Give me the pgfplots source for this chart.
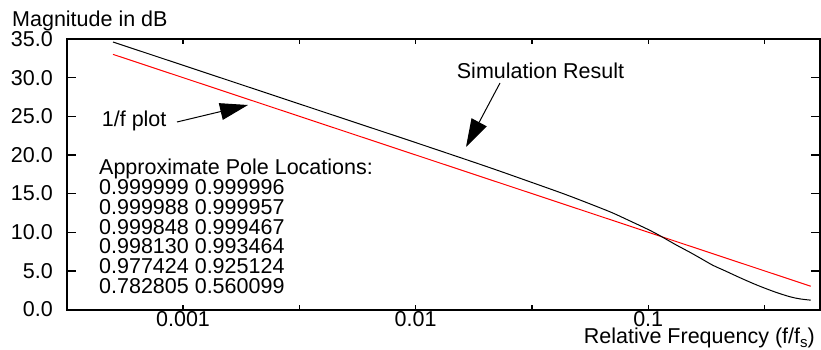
\documentclass[border=0pt]{standalone}
\usepackage{fontspec}
\setmainfont{Liberation Sans}
\usepackage{pgfplots}
\pgfplotsset{compat=1.18}
\usetikzlibrary{arrows.meta}

\pgfplotstableread{
f      db
0.0005 34.61
0.001  31.6
0.002  28.59
0.005  24.61
0.01   21.6
0.02   18.54
0.03   16.68
0.0417 15.15
0.05   14.26
0.0684 12.65
0.08   11.72
0.1    10.35
0.1125 9.54
0.13   8.46
0.151  7.41
0.167  6.67
0.19   5.71
0.21   5.12
0.25   4.07
0.293  3.17
0.35   2.28
0.407  1.65
0.45   1.37
0.5    1.21
}\simdata

\pgfplotstableread{
f      db
0.0005 33.01
0.001  30.0
0.01   20.0
0.1    10.0
0.5    3.01
}\invf

\begin{document}
\fontsize{21.5bp}{19.7bp}\selectfont
\begin{tikzpicture}
\begin{axis}[
  scale only axis,
  width=753bp, height=270.5bp,
  xmode=log,
  xmin=0.00031696, xmax=0.548,
  ymin=0, ymax=35,
  xtick={0.001,0.01,0.1},
  xticklabels={0.001,0.01,0.1},
  minor xtick={0.000316228,0.00316228,0.0316228,0.316228},
  ytick={0,5,10,15,20,25,30,35},
  tick align=inside,
  axis line style={line width=2bp},
  every tick/.style={black, line width=1.3bp},
  every x tick/.append style={/pgfplots/major tick length=4.5bp, /pgfplots/minor tick length=4.5bp},
  every y tick/.append style={/pgfplots/major tick length=9bp},
  yticklabel style={/pgf/number format/fixed, /pgf/number format/fixed zerofill, /pgf/number format/precision=1, /pgf/number format/assume math mode=true},
  yticklabel style={inner sep=0pt, anchor=east, xshift=-14bp},
  xticklabel style={inner sep=0pt, anchor=north, yshift=-2.2bp},
]
\addplot[red, line width=1bp] table[x=f, y=db] {\invf};
\addplot[black, line width=1bp, smooth] table[x=f, y=db] {\simdata};
\end{axis}
\begin{scope}[shift={(current axis.north west)}, x=1bp, y=-1bp, shift={(-67,-39)}]
  \node[anchor=base west, inner sep=0] at (12,26) {Magnitude in dB};
  \node[anchor=base east, inner sep=0] at (815,343) {Relative Frequency (f/f\raisebox{-4.5bp}{\fontsize{15bp}{15bp}\selectfont s})};
  \node[anchor=base west, inner sep=0] at (456.7,78.3) {Simulation Result};
  \draw[line width=1bp, -{Triangle[length=28bp,width=17bp]}] (500,83) -- (466,147);
  \node[anchor=base west, inner sep=0] at (101.7,126.7) {1/f plot};
  \draw[line width=1bp, -{Triangle[length=28bp,width=17bp]}] (177,122) -- (248,105);
  \node[anchor=base west, inner sep=0] at (99,174.8) {Approximate Pole Locations:};
  \node[anchor=base west, inner sep=0] at (99,194.7) {0.999999 0.999996};
  \node[anchor=base west, inner sep=0] at (99,214.4) {0.999988 0.999957};
  \node[anchor=base west, inner sep=0] at (99,234.1) {0.999848 0.999467};
  \node[anchor=base west, inner sep=0] at (99,253.8) {0.998130 0.993464};
  \node[anchor=base west, inner sep=0] at (99,273.5) {0.977424 0.925124};
  \node[anchor=base west, inner sep=0] at (99,293.2) {0.782805 0.560099};
  \pgfresetboundingbox
  \path (0,0) rectangle (821,349);
\end{scope}
\end{tikzpicture}
\end{document}
